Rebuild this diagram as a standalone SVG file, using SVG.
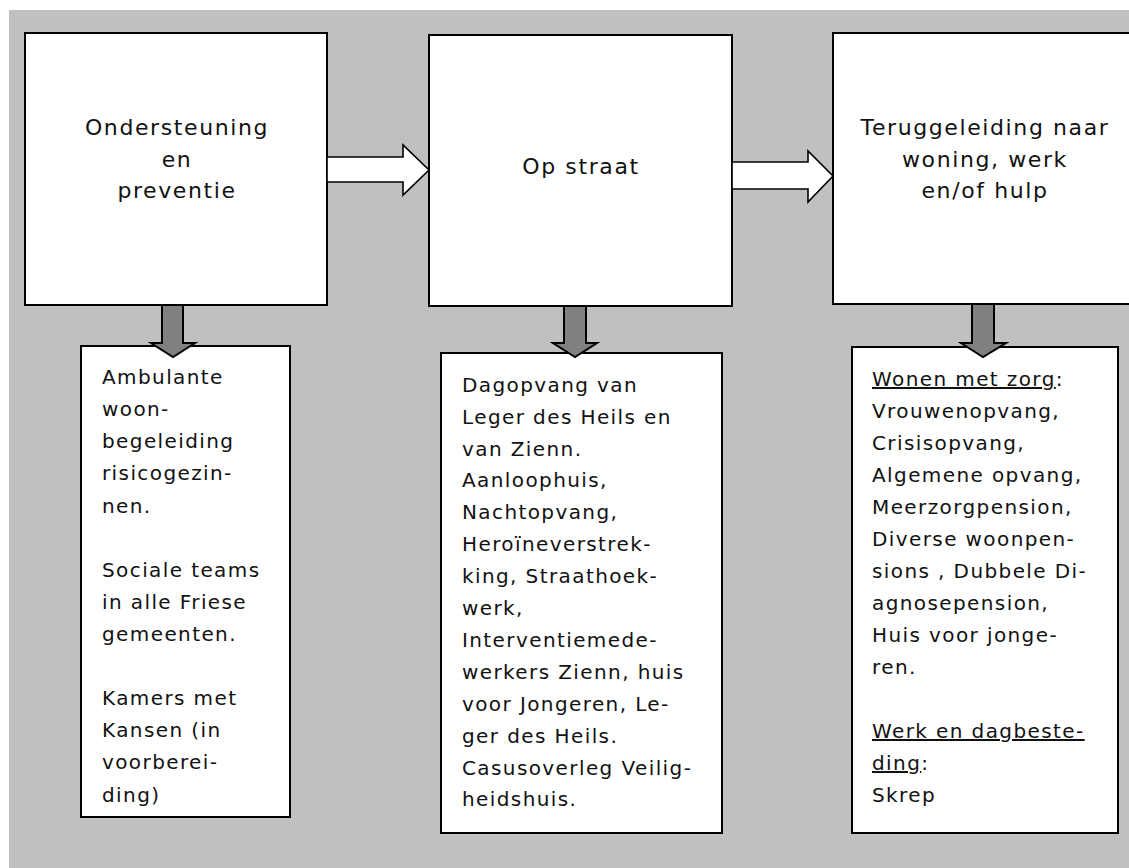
<svg xmlns="http://www.w3.org/2000/svg" width="1129" height="868" viewBox="0 0 1129 868">
  <style>
    .bg { fill: #c0c0c0; }
    .box { fill: #ffffff; stroke: #000000; stroke-width: 2; }
    .flow { fill: #ffffff; stroke: #000000; stroke-width: 1.6; stroke-linejoin: miter; }
    .down { fill: #808080; stroke: #000000; stroke-width: 2; stroke-linejoin: miter; }
    .title { font-family: "DejaVu Sans", Verdana, sans-serif; font-size: 22px; letter-spacing: 1.6px; fill: #111111; text-anchor: middle; }
    .body { font-family: "DejaVu Sans", Verdana, sans-serif; font-size: 20px; letter-spacing: 1.4px; fill: #111111; }
    .ul { text-decoration: underline; }
  </style>

  <rect class="bg" x="9" y="10" width="1120" height="858"/>

  <!-- Phase boxes -->
  <g id="phase-prevention">
    <rect class="box" x="25" y="33" width="302" height="272"/>
    <text class="title" x="177" y="135">Ondersteuning</text>
    <text class="title" x="177" y="167">en</text>
    <text class="title" x="177" y="198">preventie</text>
  </g>

  <g id="phase-street">
    <rect class="box" x="429" y="35" width="303" height="271"/>
    <text class="title" x="581" y="174">Op straat</text>
  </g>

  <g id="phase-return">
    <rect class="box" x="833" y="33" width="302" height="271"/>
    <text class="title" x="985" y="135">Teruggeleiding naar</text>
    <text class="title" x="985" y="167">woning, werk</text>
    <text class="title" x="985" y="198">en/of hulp</text>
  </g>

  <!-- Detail boxes -->
  <g id="detail-prevention">
    <rect class="box" x="81" y="346" width="209" height="471"/>
    <text class="body">
      <tspan x="102" y="384">Ambulante</tspan>
      <tspan x="102" y="416">woon-</tspan>
      <tspan x="102" y="448">begeleiding</tspan>
      <tspan x="102" y="480">risicogezin-</tspan>
      <tspan x="102" y="512.5">nen.</tspan>
      <tspan x="102" y="577">Sociale teams</tspan>
      <tspan x="102" y="609">in alle Friese</tspan>
      <tspan x="102" y="641">gemeenten.</tspan>
      <tspan x="102" y="705">Kamers met</tspan>
      <tspan x="102" y="737">Kansen (in</tspan>
      <tspan x="102" y="769">voorberei-</tspan>
      <tspan x="102" y="801.5">ding)</tspan>
    </text>
  </g>

  <g id="detail-street">
    <rect class="box" x="441" y="353" width="281" height="480"/>
    <text class="body">
      <tspan x="462" y="391.7">Dagopvang van</tspan>
      <tspan x="462" y="423.6">Leger des Heils en</tspan>
      <tspan x="462" y="455.5">van Zienn.</tspan>
      <tspan x="462" y="487.4">Aanloophuis,</tspan>
      <tspan x="462" y="519.3">Nachtopvang,</tspan>
      <tspan x="462" y="551.2">Heroïneverstrek-</tspan>
      <tspan x="462" y="583.1">king, Straathoek-</tspan>
      <tspan x="462" y="615">werk,</tspan>
      <tspan x="462" y="646.9">Interventiemede-</tspan>
      <tspan x="462" y="678.8">werkers Zienn, huis</tspan>
      <tspan x="462" y="710.7">voor Jongeren, Le-</tspan>
      <tspan x="462" y="742.6">ger des Heils.</tspan>
      <tspan x="462" y="774.5">Casusoverleg Veilig-</tspan>
      <tspan x="462" y="806.4">heidshuis.</tspan>
    </text>
  </g>

  <g id="detail-return">
    <rect class="box" x="852" y="347" width="266" height="486"/>
    <text class="body">
      <tspan x="872" y="386"><tspan class="ul">Wonen met zorg</tspan>:</tspan>
      <tspan x="872" y="418">Vrouwenopvang,</tspan>
      <tspan x="872" y="450">Crisisopvang,</tspan>
      <tspan x="872" y="482">Algemene opvang,</tspan>
      <tspan x="872" y="514">Meerzorgpension,</tspan>
      <tspan x="872" y="546">Diverse woonpen-</tspan>
      <tspan x="872" y="578">sions , Dubbele Di-</tspan>
      <tspan x="872" y="610">agnosepension,</tspan>
      <tspan x="872" y="642">Huis voor jonge-</tspan>
      <tspan x="872" y="674">ren.</tspan>
      <tspan x="872" y="738" class="ul">Werk en dagbeste-</tspan>
      <tspan x="872" y="770"><tspan class="ul">ding</tspan>:</tspan>
      <tspan x="872" y="802">Skrep</tspan>
    </text>
  </g>

  <!-- Connectors: block arrows between phases and down to details -->
  <g id="connectors">
    <polygon class="flow" points="327,157 403,157 403,145 429,170 403,195 403,182 327,182"/>
    <polygon class="flow" points="732,162 808,162 808,151 833,176 808,202 808,189 732,189"/>
    <polygon class="down" points="162,305 183,305 183,343 195,343 173,357 151,343 162,343"/>
    <polygon class="down" points="564,306 586,306 586,343 597,343 575,357 553,343 564,343"/>
    <polygon class="down" points="972,304 994,304 994,343 1006,343 983,357 961,343 972,343"/>
  </g>
</svg>
